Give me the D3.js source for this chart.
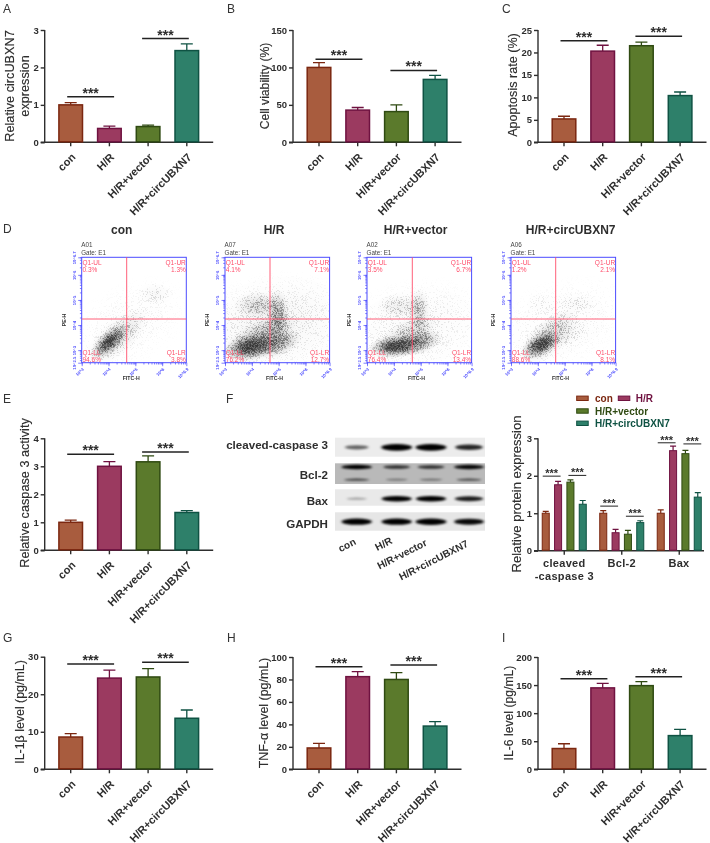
<!DOCTYPE html>
<html><head><meta charset="utf-8">
<script src="https://cdn.jsdelivr.net/npm/d3@7/dist/d3.min.js"></script>
<style>
html,body{margin:0;padding:0;background:#fff}
svg{display:block;font-family:"Liberation Sans",Arial,sans-serif;filter:blur(.3px)}
</style></head><body>
<svg id="c" width="710" height="843"></svg>
<script>
// ---------- categories ----------
const groups = ["con","H/R","H/R+vector","H/R+circUBXN7"];
const proteins = ["cleaved-caspase 3","Bcl-2","Bax"];
const blotRows = ["cleaved-caspase 3","Bcl-2","Bax","GAPDH"];

// ---------- bar values & error-bar tops ----------
const viaA = [1.0,0.37,0.42,2.45],  errA = [1.06,0.43,0.46,2.63];
const viaB = [100,43,41,84],        errB = [106.5,46.5,50,89.5];
const viaC = [5.2,20.3,21.5,10.4],  errC = [5.8,21.6,22.3,11.2];
const viaE = [1.0,3.0,3.16,1.35],   errE = [1.08,3.17,3.37,1.42];
const viaG = [8.6,24.3,24.6,13.6],  errG = [9.5,26.4,26.8,15.8];
const viaH = [19,82.5,80,38.5],     errH = [23,87,86,42.5];
const viaI = [37,145,149,60],       errI = [45.5,153,156,71];
// significance bracket heights (value units)
const sigA=[1.22,2.77], sigB=[111,96], sigC=[22.6,23.6], sigE=[3.43,3.51], sigG=[28.05,28.5], sigH=[91.4,92.9], sigI=[161.3,165];
// tick labels
const ticksA=[0,1,2,3], ticksB=[0,50,100,150], ticksC=[0,5,10,15,20,25], ticksE=[0,1,2,3,4], ticksG=[0,10,20,30], ticksH=[0,20,40,60,80,100], ticksI=[0,50,100,150,200], ticksF=[0,1,2,3];

// panel F, one row per protein
const fCon=[1.0,1.0,1.0],     fConE=[1.05,1.07,1.09];
const fHR=[1.76,0.48,2.67],   fHRE=[1.85,0.57,2.79];
const fVec=[1.83,0.44,2.59],  fVecE=[1.89,0.54,2.68];
const fCirc=[1.24,0.75,1.43], fCircE=[1.34,0.80,1.55];
const fSigA=[1.99,1.19,2.88], fSigB=[2.01,0.92,2.85];

// flow cytometry: quadrant percentages
const quadCon=["0.3%","1.3%","94.6%","3.8%"], quadHR=["4.1%","7.1%","76.2%","12.7%"], quadVec=["3.5%","6.7%","76.4%","13.4%"], quadCirc=["1.2%","2.1%","88.6%","8.1%"];
const wells=["A01","A07","A02","A06"];
// flow cytometry density clouds: [log FITC, log PE, major spread, minor spread, angle, density]
const cloudCon=[[4.75,4.0,2.1,1.4,-30,.10],[5.75,5.25,.55,.38,0,.22],[4.3,3.5,1.25,.55,-42,.42],[4.05,3.35,.72,.34,-42,.9],[4.0,3.3,.35,.18,-42,.8]];
const cloudHR=[[4.8,4.0,2.5,1.7,-10,.25],[4.25,4.78,.75,.45,0,.42],[4.95,4.55,.35,.7,0,.55],[4.98,3.95,.35,.7,0,.4],[4.95,3.25,.75,.4,-20,.65],[4.3,3.45,1.25,.6,-30,.6],[4.0,3.15,.85,.42,-12,.95],[3.95,3.12,.5,.24,-10,.8]];
const cloudVec=[[4.8,3.9,2.4,1.6,-10,.18],[4.2,4.75,.7,.42,0,.3],[4.92,4.65,.35,.65,0,.45],[4.98,3.95,.35,.6,0,.28],[4.9,3.3,.75,.38,-15,.7],[4.4,3.5,1.1,.5,-30,.45],[4.1,3.15,.85,.36,-5,.95],[4.05,3.14,.45,.2,-5,.85]];
const cloudCirc=[[4.8,4.0,2.3,1.5,-20,.12],[5.45,4.85,.65,.3,0,.18],[4.1,4.85,.5,.4,0,.1],[5.3,3.65,.6,.35,-40,.18],[4.4,3.5,1.15,.55,-42,.5],[4.12,3.22,.65,.36,-30,.95],[4.1,3.2,.33,.2,-25,.85]];

// western blot band strengths per lane
const blotCC3=[.45,1,1,.75], blotBclTop=[.95,.65,.65,.9], blotBclLow=[.55,.28,.33,.5], blotBax=[.14,.95,.95,.8], blotGapdh=[.95,.95,1,.9];

// ---------- styling ----------
const fills={ "con":"#a85c3e","H/R":"#9b3a60","H/R+vector":"#5b7a2c","H/R+circUBXN7":"#2e806a"};
const edges={ "con":"#7b2710","H/R":"#6f1240","H/R+vector":"#2f4a12","H/R+circUBXN7":"#0f5243"};
const ink="#2e2e2e";
const svg=d3.select("#c");
const defs=svg.append("defs");

function letter(t,x,y){svg.append("text").attr("x",x).attr("y",y).attr("font-size",12).attr("fill","#333").text(t);}
[["A",3,13],["B",227,13],["C",502,13],["D",3,233],["E",3,403],["F",226,403],["G",3,642],["H",227,642],["I",502,642]].forEach(d=>letter(...d));

function star(g,x,y,size){g.append("text").attr("x",x).attr("y",y).attr("text-anchor","middle").attr("font-size",size).attr("font-weight","bold").attr("fill",ink).text("***");}

function styleAxis(g){g.selectAll("path,line").attr("stroke",ink).attr("stroke-width",1.4);
  g.selectAll("text").attr("fill",ink).attr("font-weight","bold").attr("font-family","inherit");}

function barPanel(o){
  const g=svg.append("g");
  const x=d3.scaleBand(groups,[o.ax+6.65,o.ax+161.45]).paddingInner(.354).paddingOuter(.177);
  const y=d3.scaleLinear([0,o.ticks[o.ticks.length-1]],[o.y0,o.top]);
  const ga=g.append("g").attr("transform",`translate(${o.ax},0)`).call(d3.axisLeft(y).tickValues(o.ticks).tickFormat(d3.format("d")).tickSize(4).tickPadding(2));
  ga.select(".domain").attr("d",`M0,${o.y0}V${o.top}`);
  styleAxis(ga); ga.selectAll("text").attr("font-size",9.5);
  const gx=g.append("g").attr("transform",`translate(0,${o.y0})`).call(d3.axisBottom(x).tickSize(4).tickSizeOuter(0));
  gx.select(".domain").attr("d",`M${o.ax-4},0H${o.ax+168.5}`);
  styleAxis(gx);
  gx.selectAll("text").attr("font-size",11).attr("text-anchor","end").attr("dy",0).attr("y",0)
    .attr("transform","translate(5.5,15.5) rotate(-45)");
  const i=d3.range(4);
  g.selectAll(".err").data(i).join("path").attr("fill","none")
    .attr("stroke",d=>edges[groups[d]]).attr("stroke-width",1.3)
    .attr("d",d=>{const c=x(groups[d])+x.bandwidth()/2,t=y(o.err[d]);return `M${c},${y(o.vals[d])}V${t}M${c-6},${t}H${c+6}`;});
  g.selectAll(".bar").data(i).join("rect")
    .attr("x",d=>x(groups[d])+.7).attr("width",x.bandwidth()-1.4)
    .attr("y",d=>y(o.vals[d])).attr("height",d=>o.y0-y(o.vals[d])-.5)
    .attr("fill",d=>fills[groups[d]]).attr("stroke",d=>edges[groups[d]]).attr("stroke-width",1.5);
  const c=k=>x(groups[k])+x.bandwidth()/2;
  [[c(0)-3.5,c(1)+4.7,o.sig[0]],[c(2)-6,c(3)+2,o.sig[1]]].forEach(([a,b,v])=>{
    g.append("line").attr("x1",a).attr("x2",b).attr("y1",y(v)).attr("y2",y(v)).attr("stroke","#222").attr("stroke-width",1.5);
    star(g,(a+b)/2,y(v)+1,14);
  });
  o.label.forEach((t,k)=>{
    g.append("text").attr("transform",`translate(${o.lx[k]},${o.ly}) rotate(-90)`).attr("text-anchor","middle")
      .attr("font-size",o.ls).attr("fill",ink).attr("stroke",ink).attr("stroke-width",.15).text(t);
  });
}
barPanel({ax:44.7,y0:142.3,top:30,ticks:ticksA,vals:viaA,err:errA,sig:sigA,label:["Relative circUBXN7","expression"],lx:[14,28.5],ly:86,ls:12.7});
barPanel({ax:293,y0:142.3,top:30,ticks:ticksB,vals:viaB,err:errB,sig:sigB,label:["Cell viability (%)"],lx:[268.5],ly:86,ls:12.2});
barPanel({ax:538,y0:142.3,top:30,ticks:ticksC,vals:viaC,err:errC,sig:sigC,label:["Apoptosis rate (%)"],lx:[516.5],ly:85,ls:12.6});
barPanel({ax:44.7,y0:550.3,top:438.3,ticks:ticksE,vals:viaE,err:errE,sig:sigE,label:["Relative caspase 3 activity"],lx:[28.5],ly:493,ls:12.7});
barPanel({ax:44.7,y0:769.3,top:656.7,ticks:ticksG,vals:viaG,err:errG,sig:sigG,label:["IL-1β level (pg/mL)"],lx:[23.5],ly:712,ls:12.4});
barPanel({ax:293,y0:769.3,top:657,ticks:ticksH,vals:viaH,err:errH,sig:sigH,label:["TNF-α level (pg/mL)"],lx:[267.5],ly:713,ls:12.4});
barPanel({ax:538,y0:769.3,top:657,ticks:ticksI,vals:viaI,err:errI,sig:sigI,label:["IL-6 level (pg/mL)"],lx:[512.5],ly:713,ls:12.2});

// ---------- flow cytometry ----------
const grad=defs.append("radialGradient").attr("id","cl");
[[0,1],[.45,.62],[.75,.2],[1,0]].forEach(([o,a])=>grad.append("stop").attr("offset",o).attr("stop-color","#000").attr("stop-opacity",a));
const spk=defs.append("filter").attr("id","speck").attr("x","0").attr("y","0").attr("width","1").attr("height","1");
spk.append("feTurbulence").attr("type","fractalNoise").attr("baseFrequency",1.8).attr("numOctaves",2).attr("seed",4).attr("result","n");
spk.append("feColorMatrix").attr("in","n").attr("type","matrix").attr("values","0 0 0 0 0 0 0 0 0 0 0 0 0 0 0 0 0 0 3.2 -1.05").attr("result","m");
spk.append("feComposite").attr("in","SourceGraphic").attr("in2","m").attr("operator","arithmetic").attr("k1",0).attr("k2",1.25).attr("k3",1).attr("k4",-1).attr("result","s");
const ct=spk.append("feComponentTransfer").attr("in","s");ct.append("feFuncA").attr("type","linear").attr("slope",.55);

function flowPanel(o,idx){
  const g=svg.append("g");
  const X=d3.scaleLog([1e3,10**6.9],[o.x,o.x+104.6]);
  const Y=d3.scaleLog([10**2.5,10**6.7],[362.7,257.3]);
  const decX=104.6/3.9, decY=105.4/4.2;
  const id="clip"+idx;
  defs.append("clipPath").attr("id",id).append("rect").attr("x",o.x).attr("y",257.3).attr("width",104.6).attr("height",105.4);
  const clip=g.append("g").attr("clip-path",`url(#${id})`);
  // soft haze beneath the speckle
  const under=clip.append("g").attr("opacity",.55);
  under.selectAll("ellipse").data(o.clouds).join("ellipse")
    .attr("rx",d=>d[2]*decX*1.25).attr("ry",d=>d[3]*decY*1.25).attr("fill","url(#cl)").attr("fill-opacity",d=>d[5]*d[5])
    .attr("transform",d=>`translate(${X(10**d[0])},${Y(10**d[1])}) rotate(${d[4]})`);
  const cg=clip.append("g").attr("filter","url(#speck)");
  cg.append("rect").attr("x",o.x).attr("y",257.3).attr("width",104.6).attr("height",105.4).attr("fill","#000").attr("fill-opacity",0);
  cg.selectAll("ellipse").data(o.clouds).join("ellipse")
    .attr("rx",d=>d[2]*decX*1.3).attr("ry",d=>d[3]*decY*1.3).attr("fill","url(#cl)").attr("fill-opacity",d=>d[5])
    .attr("transform",d=>`translate(${X(10**d[0])},${Y(10**d[1])}) rotate(${d[4]})`);
  const blue="#4b4bff", red="#ff4d6a";
  g.append("rect").attr("x",o.x).attr("y",257.3).attr("width",104.6).attr("height",105.4).attr("fill","none").attr("stroke",blue).attr("stroke-width",1);
  const vx=o.vx;
  g.append("line").attr("x1",vx).attr("x2",vx).attr("y1",257.3).attr("y2",362.7).attr("stroke",red).attr("stroke-width",.9);
  g.append("line").attr("x1",o.x).attr("x2",o.x+104.6).attr("y1",319).attr("y2",319).attr("stroke",red).attr("stroke-width",.9);
  const minor=(lo,hi)=>d3.range(Math.floor(lo),Math.ceil(hi)).flatMap(e=>d3.range(1,10).map(m=>m*10**e)).filter(v=>v>=10**lo&&v<=10**hi);
  const exps=[3,4,5,6,6.9], expsY=[2.5,3,4,5,6,6.7];
  const ax=g.append("g").attr("transform","translate(0,362.7)").call(d3.axisBottom(X).tickValues(minor(3,6.9)).tickSize(1.8).tickFormat(""));
  const ax2=g.append("g").attr("transform","translate(0,362.7)").call(d3.axisBottom(X).tickValues(exps.map(e=>10**e)).tickSize(3.5).tickFormat(v=>"10^"+ +Math.log10(v).toFixed(1)));
  const ay=g.append("g").attr("transform",`translate(${o.x},0)`).call(d3.axisLeft(Y).tickValues(minor(2.5,6.7)).tickSize(1.8).tickFormat(""));
  const ay2=g.append("g").attr("transform",`translate(${o.x},0)`).call(d3.axisLeft(Y).tickValues(expsY.map(e=>10**e)).tickSize(3.5).tickFormat(v=>"10^"+ +Math.log10(v).toFixed(1)));
  [ax,ax2,ay,ay2].forEach(a=>{a.select(".domain").remove();a.selectAll("line").attr("stroke",blue).attr("stroke-width",.7);});
  ax2.selectAll("text").attr("font-size",4.2).attr("fill",blue).attr("font-family","inherit").attr("font-weight","bold").attr("text-anchor","end").attr("y",0).attr("dy",0).attr("transform","translate(2,7) rotate(-45)");
  ay2.selectAll("text").attr("font-size",4.2).attr("fill",blue).attr("font-family","inherit").attr("font-weight","bold").attr("text-anchor","middle").attr("x",0).attr("dy",0).attr("transform","translate(-6,0) rotate(-90)");
  const T=(t,x,y,a,c,s,w)=>g.append("text").attr("x",x).attr("y",y).attr("text-anchor",a).attr("fill",c).attr("font-size",s).attr("font-weight",w||"normal").text(t);
  T(groups[idx],o.tc,234,"middle",ink,12,"bold");
  T(wells[idx],o.x-.5,246.5,"start","#444",6.3);
  T("Gate: E1",o.x-.5,254.5,"start","#444",6.3);
  const q=o.quad,r=o.x+104.6-.5,l=o.x+.8;
  T("Q1-UL",l,264.5,"start",red,6.5);T(q[0],l,271.5,"start",red,6.5);
  T("Q1-UR",r,264.5,"end",red,6.5);T(q[1],r,271.5,"end",red,6.5);
  T("Q1-LL",l,354.5,"start",red,6.5);T(q[2],l,361.5,"start",red,6.5);
  T("Q1-LR",r,354.5,"end",red,6.5);T(q[3],r,361.5,"end",red,6.5);
  T("FITC-H",o.x+49.5,379.5,"middle","#333",5.2,"bold");
  g.append("text").attr("transform",`translate(${o.x-16},320) rotate(-90)`).attr("text-anchor","middle").attr("font-size",5.2).attr("font-weight","bold").attr("fill","#333").text("PE-H");
}
[{x:81.7,vx:126.7,tc:121.7,clouds:cloudCon,quad:quadCon},
 {x:225,vx:270,tc:274,clouds:cloudHR,quad:quadHR},
 {x:367,vx:412.3,tc:415.7,clouds:cloudVec,quad:quadVec},
 {x:511,vx:555.7,tc:570.7,clouds:cloudCirc,quad:quadCirc}].forEach(flowPanel);

// ---------- western blot ----------
const lane=d3.scaleOrdinal(groups,[356.7,396.7,431,469]);
const bl=defs.append("filter").attr("id","bandBlur").attr("x","-30%").attr("y","-150%").attr("width","160%").attr("height","400%");
bl.append("feGaussianBlur").attr("stdDeviation","1.6 .8");
const edge=defs.append("filter").attr("id","stripBlur");edge.append("feGaussianBlur").attr("stdDeviation",.7);
const blotG=svg.append("g");
[[437.7,456.7,"#ececec"],[463.3,484,"#b9b9b9"],[489.3,505.7,"#e9e9e9"],[512.3,530.7,"#e6e6e6"]].forEach(([a,b,c])=>
  blotG.append("rect").attr("x",335).attr("width",150).attr("y",a).attr("height",b-a).attr("fill",c).attr("filter","url(#stripBlur)"));
[[blotCC3,447.3,1],[blotBclTop,467,.7],[blotBclLow,479.7,.5],[blotBax,498.7,.85],[blotGapdh,521.7,.95]].forEach(([vals,cy,th])=>{
  blotG.selectAll(null).data(vals).join("ellipse")
    .attr("cx",(d,i)=>lane(groups[i])).attr("cy",cy)
    .attr("rx",d=>(9+6.5*d)).attr("ry",d=>(1+2.4*d)*th)
    .attr("fill","#000").attr("fill-opacity",d=>Math.min(1,.2+d*.85)).attr("filter","url(#bandBlur)");
});
[["cleaved-caspase 3",449],["Bcl-2",478.5],["Bax",505],["GAPDH",527.5]].forEach(([t,y])=>
  svg.append("text").attr("x",328).attr("y",y).attr("text-anchor","end").attr("font-size",11.6).attr("font-weight","bold").attr("fill",ink).text(t));
groups.forEach((t,i)=>{
  const ex=[356.7,393,427.7,469][i], ey=[544,543,545,546][i];
  svg.append("text").attr("transform",`translate(${ex},${ey}) rotate(-27)`).attr("text-anchor","end").attr("font-size",10.2).attr("font-weight","bold").attr("fill",ink).text(t);
});

// ---------- panel F chart ----------
(function(){
  const g=svg.append("g");
  const ax=538,y0=550.7,top=438.3;
  const x=d3.scaleBand(proteins,[535.5,708]).padding(0);
  const y=d3.scaleLinear([0,3],[y0,top]);
  const inner=d3.scaleBand(groups,[0,x.bandwidth()]).paddingInner(.35).paddingOuter(.505);
  const vals=[fCon,fHR,fVec,fCirc], errs=[fConE,fHRE,fVecE,fCircE];
  const ga=g.append("g").attr("transform",`translate(${ax},0)`).call(d3.axisLeft(y).tickValues(ticksF).tickFormat(d3.format("d")).tickSize(4).tickPadding(2));
  ga.select(".domain").attr("d",`M0,${y0}V${top}`);styleAxis(ga);ga.selectAll("text").attr("font-size",9.5);
  const gx=g.append("g").attr("transform",`translate(0,${y0})`).call(d3.axisBottom(x).tickSize(4).tickSizeOuter(0).tickFormat(""));
  gx.select(".domain").attr("d",`M${ax-4},0H704`);styleAxis(gx);
  proteins.forEach((p,pi)=>{
    const px=x(p);
    groups.forEach((s,si)=>{
      const bx=px+inner(s),c=bx+inner.bandwidth()/2,v=vals[si][pi],e=errs[si][pi];
      g.append("path").attr("fill","none").attr("stroke",edges[s]).attr("stroke-width",1.2).attr("d",`M${c},${y(v)}V${y(e)}M${c-3},${y(e)}H${c+3}`);
      g.append("rect").attr("x",bx+.5).attr("width",inner.bandwidth()-1).attr("y",y(v)).attr("height",y0-y(v)-.5).attr("fill",fills[s]).attr("stroke",edges[s]).attr("stroke-width",1);
    });
    const c=k=>px+inner(groups[k])+inner.bandwidth()/2;
    [[c(0)-3,c(1)+2.5,fSigA[pi]],[c(2)-2,c(3)+3.5,fSigB[pi]]].forEach(([a,b,v])=>{
      g.append("line").attr("x1",a).attr("x2",b).attr("y1",y(v)).attr("y2",y(v)).attr("stroke","#222").attr("stroke-width",1);
      star(g,(a+b)/2,y(v)+1,11);
    });
  });
  const lab=(t,xx,yy)=>g.append("text").attr("x",xx).attr("y",yy).attr("text-anchor","middle").attr("font-size",11).attr("font-weight","bold").attr("fill",ink).attr("letter-spacing",.3).text(t);
  lab("cleaved",564.3,566.5);lab("-caspase 3",564.3,579.5);lab("Bcl-2",621.7,566.5);lab("Bax",679,566.5);
  g.append("text").attr("transform","translate(520.5,494) rotate(-90)").attr("text-anchor","middle").attr("font-size",13).attr("fill",ink).attr("stroke",ink).attr("stroke-width",.15).text("Relative protein expression");
  // legend
  [[groups[0],576.7,398.3,595],[groups[1],618.3,398.3,635.7],[groups[2],576.7,411,595],[groups[3],576.7,423.3,595]].forEach(([s,sx,sy,tx])=>{
    g.append("rect").attr("x",sx).attr("y",sy-2.2).attr("width",11.5).attr("height",4.4).attr("fill",fills[s]).attr("stroke",edges[s]).attr("stroke-width",1);
    g.append("text").attr("x",tx).attr("y",sy+3.5).attr("font-size",10).attr("font-weight","bold").attr("fill",edges[s]).text(s);
  });
})();
</script>
</body></html>
